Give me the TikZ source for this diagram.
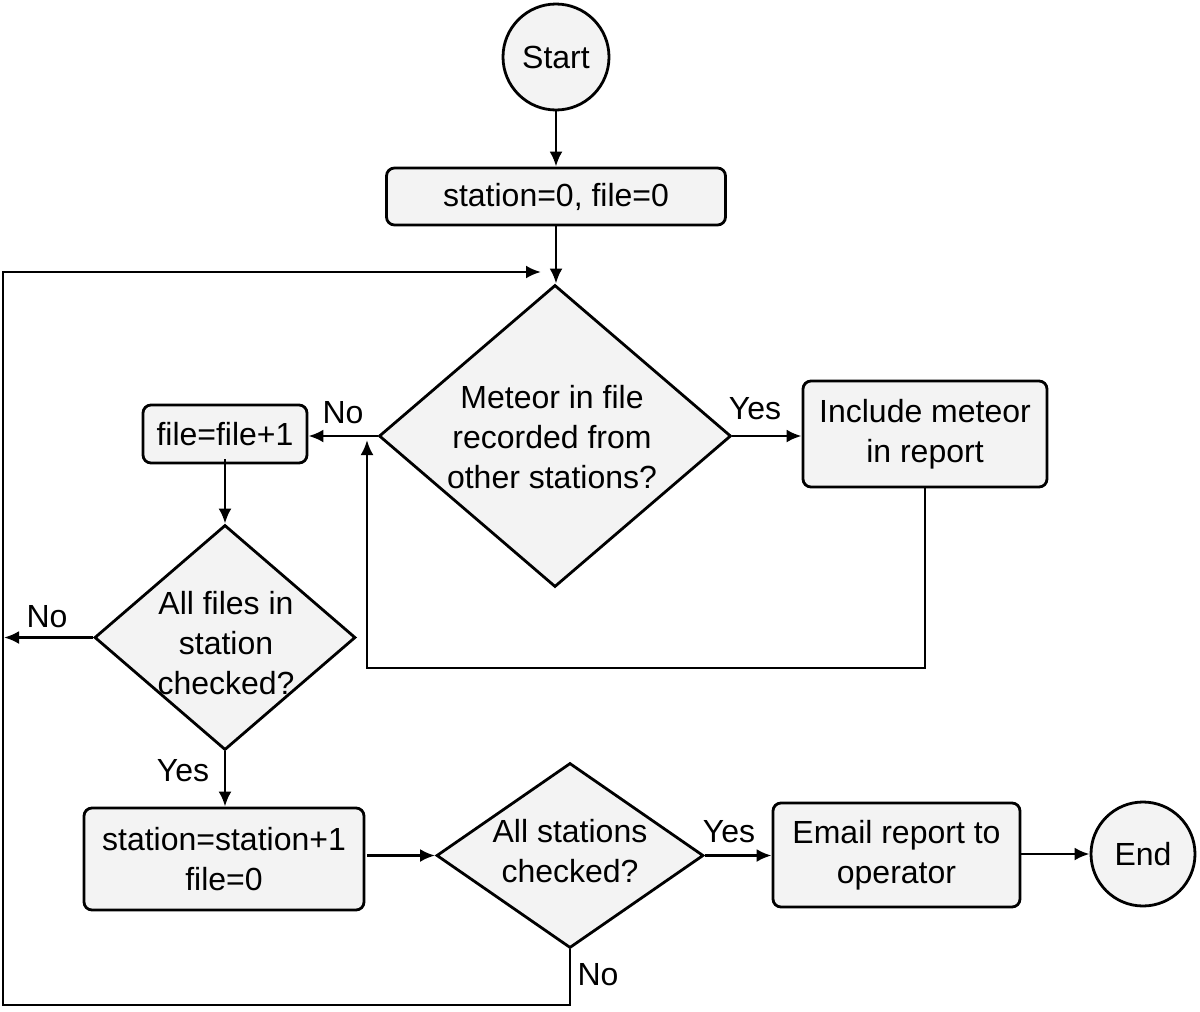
\documentclass[tikz,border=0pt]{standalone}
\usepackage{fontspec}
\setmainfont{Liberation Sans}
\usetikzlibrary{shapes.geometric,arrows.meta}
\definecolor{boxfill}{RGB}{243,243,243}
\tikzset{
  every node/.style={font=\fontsize{32}{40}\selectfont},
  proc/.style={draw=black, line width=2.8pt, fill=boxfill, rounded corners=8pt, inner sep=0pt, align=center},
  term/.style={draw=black, line width=2.8pt, fill=boxfill, circle, inner sep=0pt},
  dec/.style={draw=black, line width=2.8pt, fill=boxfill, diamond, inner sep=0pt},
  txt/.style={align=center, inner sep=0pt},
  lbl/.style={inner sep=0pt},
  conn/.style={line width=2.8pt, -{Latex[length=15pt,width=13pt]}},
  plain/.style={line width=2.8pt},
}
\begin{document}
\begin{tikzpicture}[x=1pt,y=-1pt]
\useasboundingbox (0,0) rectangle (1200,1012);

\node[term, minimum size=106pt] (start) at (556,57) {Start};
\node[proc, minimum width=339pt, minimum height=57pt] (init) at (556,196.5) {station=0, file=0};

\node[dec, minimum width=352pt, minimum height=302pt] (meteor) at (555,436) {};
\node[txt] (meteortxt) at (552,437) {Meteor in file\\recorded from\\other stations?};

\node[proc, minimum width=164pt, minimum height=58pt] (filebox) at (225,434) {file=file+1};
\node[proc, minimum width=244pt, minimum height=106pt] (include) at (925,434) {Include meteor\\in report};

\node[dec, minimum width=261pt, minimum height=225pt] (files) at (225,637.5) {};
\node[txt] (filestxt) at (226,643) {All files in\\station\\checked?};

\node[proc, minimum width=280pt, minimum height=102pt] (stationbox) at (224,859) {station=station+1\\file=0};

\node[dec, minimum width=267pt, minimum height=185pt] (stations) at (570,855.5) {};
\node[txt] (stationstxt) at (570,851) {All stations\\checked?};

\node[proc, minimum width=247pt, minimum height=104pt] (email) at (896.5,855) {Email report to\\operator};
\node[term, minimum size=104pt] (end) at (1143,854) {End};

% coordinates for free ends
\coordinate (loopend) at (541,272);
\coordinate (noleft) at (4,637.5);
\coordinate (backup) at (367,440);
\coordinate (loopcorner) at (3,1005);

% connectors
\draw[conn] (start.south -| init.north) -- (init.north);
\draw[conn] (init.south) -- (init.south |- meteor.north);
\draw[conn] (meteor.west) -- (meteor.west -| filebox.east);
\draw[conn] (meteor.east) -- (meteor.east -| include.west);
\draw[plain] (include.south) -- (925,668) -- (367,668) -- (367,460);
\draw[conn] (367,470) -- (backup);
\draw[conn] ([yshift=5pt]filebox.south) -- (files.north);
\draw[conn] (files.west) -- (noleft);
\draw[conn] (files.south) -- (files.south |- stationbox.north);
\draw[conn] ([xshift=2pt]stations.west -| stationbox.east) -- (stations.west);
\draw[conn] (stations.east) -- (stations.east -| email.west);
\draw[conn] (email.east |- end.west) -- (end.west);
\draw[conn] (stations.south) |- (loopcorner) -- (3,272) -- (loopend);

% labels
\node[lbl] (lno1) at (343,413) {No};
\node[lbl] (lyes1) at (755,409) {Yes};
\node[lbl] (lno2) at (47,617) {No};
\node[lbl] (lyes2) at (183,771) {Yes};
\node[lbl] (lyes3) at (729,832) {Yes};
\node[lbl] (lno3) at (598,975) {No};
\end{tikzpicture}
\end{document}
